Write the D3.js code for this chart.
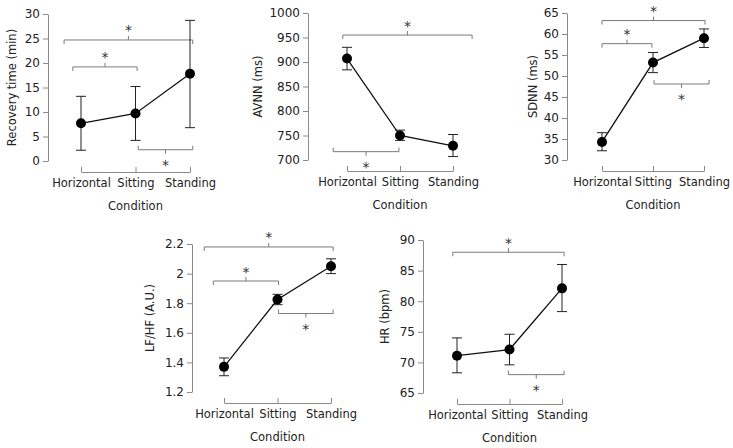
<!DOCTYPE html>
<html>
<head>
<meta charset="utf-8">
<script src="https://cdn.jsdelivr.net/npm/d3@7"></script>
<style>
  body { margin: 0; background: #fff; }
  text { font-family: "DejaVu Sans", Verdana, sans-serif; }
  .axis path, .axis line { stroke: #8a8a8a; }
  .axis text { font-size: 11.5px; fill: #222; }
  .yaxis text { font-size: 12px; }
</style>
</head>
<body>
<svg id="chart" width="733" height="448"></svg>
<script>
// shared categories
var conditions = ["Horizontal", "Sitting", "Standing"];

// Recovery time (min)
var recoveryMean = [7.7, 9.7, 17.8];
var recoveryLow = [2.2, 4.2, 6.8];
var recoveryHigh = [13.2, 15.2, 28.7];
var recoveryTicks = [0, 5, 10, 15, 20, 25, 30];
// brackets: [from, to, level, side]  from/to in category index units
var recoveryBrackets = [[-0.31, 2.05, 24.7, "top"], [-0.15, 1.03, 19.2, "top"], [1.05, 2.05, 2.3, "bottom"]];

// AVNN (ms)
var avnnMean = [907, 750, 729];
var avnnLow = [884, 740, 707];
var avnnHigh = [930, 761, 752];
var avnnTicks = [700, 750, 800, 850, 900, 950, 1000];
var avnnBrackets = [[-0.08, 2.36, 955, "top"], [-0.26, 0.98, 717, "bottom"]];

// SDNN (ms)
var sdnnMean = [34.3, 53.2, 59.0];
var sdnnLow = [32.2, 50.8, 56.8];
var sdnnHigh = [36.5, 55.6, 61.2];
var sdnnTicks = [30, 35, 40, 45, 50, 55, 60, 65];
var sdnnBrackets = [[0, 2.02, 63.2, "top"], [0, 0.98, 57.7, "top"], [1.02, 2.1, 48.1, "bottom"]];

// LF/HF (A.U.)
var lfhfMean = [1.37, 1.825, 2.05];
var lfhfLow = [1.31, 1.79, 2.0];
var lfhfHigh = [1.43, 1.86, 2.1];
var lfhfTicks = [1.2, 1.4, 1.6, 1.8, 2.0, 2.2];
var lfhfBrackets = [[-0.37, 2.04, 2.18, "top"], [-0.2, 1.02, 1.95, "top"], [1.02, 2.04, 1.73, "bottom"]];

// HR (bpm)
var hrMean = [71.1, 72.1, 82.1];
var hrLow = [68.3, 69.6, 78.3];
var hrHigh = [74.0, 74.6, 86.0];
var hrTicks = [65, 70, 75, 80, 85, 90];
var hrBrackets = [[-0.08, 2.04, 88.0, "top"], [0.98, 2.04, 68.0, "bottom"]];

var svg = d3.select("#chart");
svg.append("rect").attr("width", 733).attr("height", 448).attr("fill", "#fff");

// layout of each panel: y axis x, plot top/bottom, x range, title offset
var panels = [
    { title: "Recovery time (min)", mean: recoveryMean, low: recoveryLow, high: recoveryHigh, ticks: recoveryTicks, brackets: recoveryBrackets,
      ax: 48, top: 14, bottom: 161, x0: 81, x1: 190, titleOff: 36, fmt: d => d },
    { title: "AVNN (ms)", mean: avnnMean, low: avnnLow, high: avnnHigh, ticks: avnnTicks, brackets: avnnBrackets,
      ax: 308, top: 13, bottom: 160, x0: 347, x1: 453, titleOff: 50, fmt: d => d },
    { title: "SDNN (ms)", mean: sdnnMean, low: sdnnLow, high: sdnnHigh, ticks: sdnnTicks, brackets: sdnnBrackets,
      ax: 567, top: 13, bottom: 160, x0: 602, x1: 704, titleOff: 34, fmt: d => d },
    { title: "LF/HF (A.U.)", mean: lfhfMean, low: lfhfLow, high: lfhfHigh, ticks: lfhfTicks, brackets: lfhfBrackets,
      ax: 192, top: 244, bottom: 392, x0: 224, x1: 331, titleOff: 42, fmt: d => String(+d.toFixed(1)) },
    { title: "HR (bpm)", mean: hrMean, low: hrLow, high: hrHigh, ticks: hrTicks, brackets: hrBrackets,
      ax: 423, top: 240, bottom: 393, x0: 457, x1: 562, titleOff: 38, fmt: d => d }
];

panels.forEach(function (p) {
    var g = svg.append("g");
    var ext = d3.extent(p.ticks);
    var y = d3.scaleLinear().domain(ext).range([p.bottom, p.top]);
    var x = d3.scaleLinear().domain([0, conditions.length - 1]).range([p.x0, p.x1]);
    var axisY = p.bottom + 11;

    // y axis
    g.append("g").attr("class", "axis yaxis")
        .attr("transform", "translate(" + p.ax + ",0)")
        .call(d3.axisLeft(y).tickValues(p.ticks).tickFormat(p.fmt).tickSize(5).tickSizeOuter(0).tickPadding(3));

    // x axis (ticks pointing up)
    g.append("g").attr("class", "axis")
        .attr("transform", "translate(0," + axisY + ")")
        .call(d3.axisBottom(x).tickValues(d3.range(conditions.length)).tickFormat(i => conditions[i])
            .tickSize(-5).tickSizeOuter(0).tickPadding(7));
    g.selectAll(".axis path.domain").attr("stroke", "#8a8a8a");

    g.append("text")
        .attr("x", (p.x0 + p.x1) / 2).attr("y", axisY + 38)
        .attr("text-anchor", "middle").attr("font-size", "11.5px").attr("fill", "#222")
        .text("Condition");

    g.append("text")
        .attr("transform", "translate(" + (p.ax - p.titleOff) + "," + ((p.top + p.bottom) / 2) + ") rotate(-90)")
        .attr("dy", "0.35em")
        .attr("text-anchor", "middle").attr("font-size", "11.5px").attr("fill", "#222")
        .text(p.title);

    // significance brackets
    p.brackets.forEach(function (b) {
        var xa = x(b[0]), xb = x(b[1]), yy = y(b[2]), xm = (xa + xb) / 2;
        var s = b[3] == "top" ? 1 : -1;
        g.append("path")
            .attr("d", "M" + xa + "," + (yy + 4 * s) + "V" + yy + "H" + xb + "V" + (yy + 4 * s)
                + "M" + xm + "," + yy + "V" + (yy - 4 * s))
            .attr("fill", "none").attr("stroke", "#7a7a7a").attr("stroke-width", 1);
        g.append("text")
            .attr("x", xm).attr("y", s == 1 ? yy - 4.5 : yy + 20.5)
            .attr("text-anchor", "middle").attr("font-size", "14px").attr("fill", "#333")
            .text("*");
    });

    // error bars
    var idx = d3.range(conditions.length);
    g.selectAll(".err").data(idx).enter().append("path")
        .attr("d", i => "M" + (x(i) - 5) + "," + y(p.low[i]) + "H" + (x(i) + 5)
            + "M" + x(i) + "," + y(p.low[i]) + "V" + y(p.high[i])
            + "M" + (x(i) - 5) + "," + y(p.high[i]) + "H" + (x(i) + 5))
        .attr("fill", "none").attr("stroke", "#222").attr("stroke-width", 1);

    // mean line and points
    g.append("path").datum(idx)
        .attr("d", d3.line().x(i => x(i)).y(i => y(p.mean[i])))
        .attr("fill", "none").attr("stroke", "#111").attr("stroke-width", 1.3);
    g.selectAll("circle").data(idx).enter().append("circle")
        .attr("cx", i => x(i)).attr("cy", i => y(p.mean[i])).attr("r", 5)
        .attr("fill", "#000");
});
</script>
</body>
</html>
